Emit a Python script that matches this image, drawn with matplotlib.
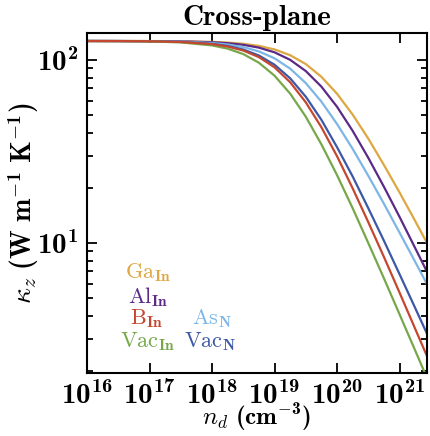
import os
import matplotlib
matplotlib.use("Agg")
import matplotlib as mpl
import matplotlib.pyplot as plt
from matplotlib.font_manager import FontProperties
from matplotlib.ticker import FixedLocator, FixedFormatter, LogLocator, NullFormatter, NullLocator

# Computer Modern bold for roman math, regular CM reachable through \mathsf
plt.rcParams["mathtext.fontset"] = "custom"
plt.rcParams["mathtext.rm"] = "cmb10"
plt.rcParams["mathtext.bf"] = "cmb10"
plt.rcParams["mathtext.it"] = "cmmi10"
plt.rcParams["mathtext.sf"] = "cmr10"
plt.rcParams["mathtext.fallback"] = "cm"

# dopant concentration grid (cm^-3)
n_d = [1e16, 10**16.5, 1e17, 10**17.5, 1e18, 10**18.25, 10**18.5, 10**18.75,
       1e19, 10**19.25, 10**19.5, 10**19.75, 1e20, 10**20.25, 10**20.5,
       10**20.75, 1e21, 10**21.25, 10**21.5]

# cross-plane thermal conductivity (W m^-1 K^-1) for each defect type
kappa_Ga_In = [127.0, 127.0, 126.9, 126.5, 125.6, 124.5, 122.6, 119.4, 114.2, 106.2,
               95.0, 80.9, 65.4, 50.3, 37.2, 26.7, 18.9, 13.2, 9.15]
kappa_Al_In = [127.0, 126.9, 126.8, 126.4, 125.0, 123.5, 121.0, 116.8, 110.1, 100.2,
               87.0, 71.5, 55.5, 41.0, 29.2, 20.3, 13.9, 9.39, 6.33]
kappa_As_N = [127.0, 126.9, 126.7, 126.0, 123.8, 121.5, 117.6, 111.4, 102.1, 89.7,
              74.8, 59.2, 44.7, 32.7, 23.3, 16.4, 11.4, 7.90, 5.45]
kappa_Vac_N = [127.0, 126.9, 126.5, 125.5, 122.5, 119.3, 114.0, 105.8, 94.2, 79.4,
               63.0, 47.1, 33.4, 23.1, 15.5, 10.3, 6.76, 4.42, 2.88]
kappa_B_In = [126.9, 126.8, 126.5, 125.4, 122.0, 118.4, 112.6, 103.7, 91.2, 75.6,
              58.7, 42.9, 29.8, 19.9, 13.0, 8.40, 5.36, 3.40, 2.16]
kappa_Vac_In = [126.9, 126.8, 126.3, 124.7, 120.1, 115.3, 107.7, 96.6, 82.1, 65.5,
                49.0, 34.6, 23.5, 15.5, 10.0, 6.42, 4.08, 2.59, 1.64]

series = [
    (kappa_Ga_In, "#DDA741", r"$\mathsf{Ga}_{\mathrm{In}}$", (148, 273)),
    (kappa_Al_In, "#5B2A88", r"$\mathsf{Al}_{\mathrm{In}}$", (148, 297)),
    (kappa_As_N, "#7DB6E6", r"$\mathsf{As}_{\mathrm{N}}$", (212, 319)),
    (kappa_Vac_N, "#3C58A6", r"$\mathsf{Vac}_{\mathrm{N}}$", (210, 342)),
    (kappa_Vac_In, "#76A84A", r"$\mathsf{Vac}_{\mathrm{In}}$", (148, 342)),
    (kappa_B_In, "#C4472F", r"$\mathsf{B}_{\mathrm{In}}$", (147, 319)),
]

x_ticks = [1e16, 1e17, 1e18, 1e19, 1e20, 1e21]
x_tick_labels = [r"$10^{16}$", r"$10^{17}$", r"$10^{18}$",
                 r"$10^{19}$", r"$10^{20}$", r"$10^{21}$"]
y_ticks = [1e1, 1e2]
y_tick_labels = [r"$10^{1}$", r"$10^{2}$"]

W, H = 430, 436
fig = plt.figure(figsize=(W / 100, H / 100), dpi=100)
L, R, T, B = 87, 427, 33, 373
ax = fig.add_axes([L / W, (H - B) / H, (R - L) / W, (B - T) / H])

for vals, col, lab, pos in series:
    ax.plot(n_d, vals, color=col, lw=1.6, solid_capstyle="butt")

ax.set_xscale("log")
ax.set_yscale("log")
ax.set_xlim(1e16, 2.75e21)
ax.set_ylim(1.95, 140.4)

ax.xaxis.set_major_locator(FixedLocator(x_ticks))
ax.xaxis.set_major_formatter(FixedFormatter(x_tick_labels))
ax.xaxis.set_minor_locator(NullLocator())
ax.yaxis.set_major_locator(FixedLocator(y_ticks))
ax.yaxis.set_major_formatter(FixedFormatter(y_tick_labels))
ax.yaxis.set_minor_locator(LogLocator(base=10, subs=range(2, 10)))
ax.yaxis.set_minor_formatter(NullFormatter())

ax.tick_params(which="both", direction="in", top=True, right=True, width=1.3)
ax.tick_params(which="major", length=7, labelsize=21, pad=6)
ax.tick_params(which="minor", length=4)
for s in ax.spines.values():
    s.set_linewidth(1.5)

cmb = os.path.join(mpl.get_data_path(), "fonts", "ttf", "cmb10.ttf")
ax.set_title("Cross-plane", fontproperties=FontProperties(fname=cmb, size=21), pad=6)
ax.set_xlabel(r"$n_d\ (\mathrm{cm}^{-3})$", fontsize=18, labelpad=-6)
ax.set_ylabel(r"$\kappa_z\ (\mathrm{W\ m}^{-1}\ \mathrm{K}^{-1})$", fontsize=20, labelpad=-3)

for vals, col, lab, (px, py) in series:
    ax.text((px - L) / (R - L), (B - py) / (B - T), lab, color=col, fontsize=16,
            ha="center", va="center", transform=ax.transAxes)

fig.savefig("out.png", dpi=100)
